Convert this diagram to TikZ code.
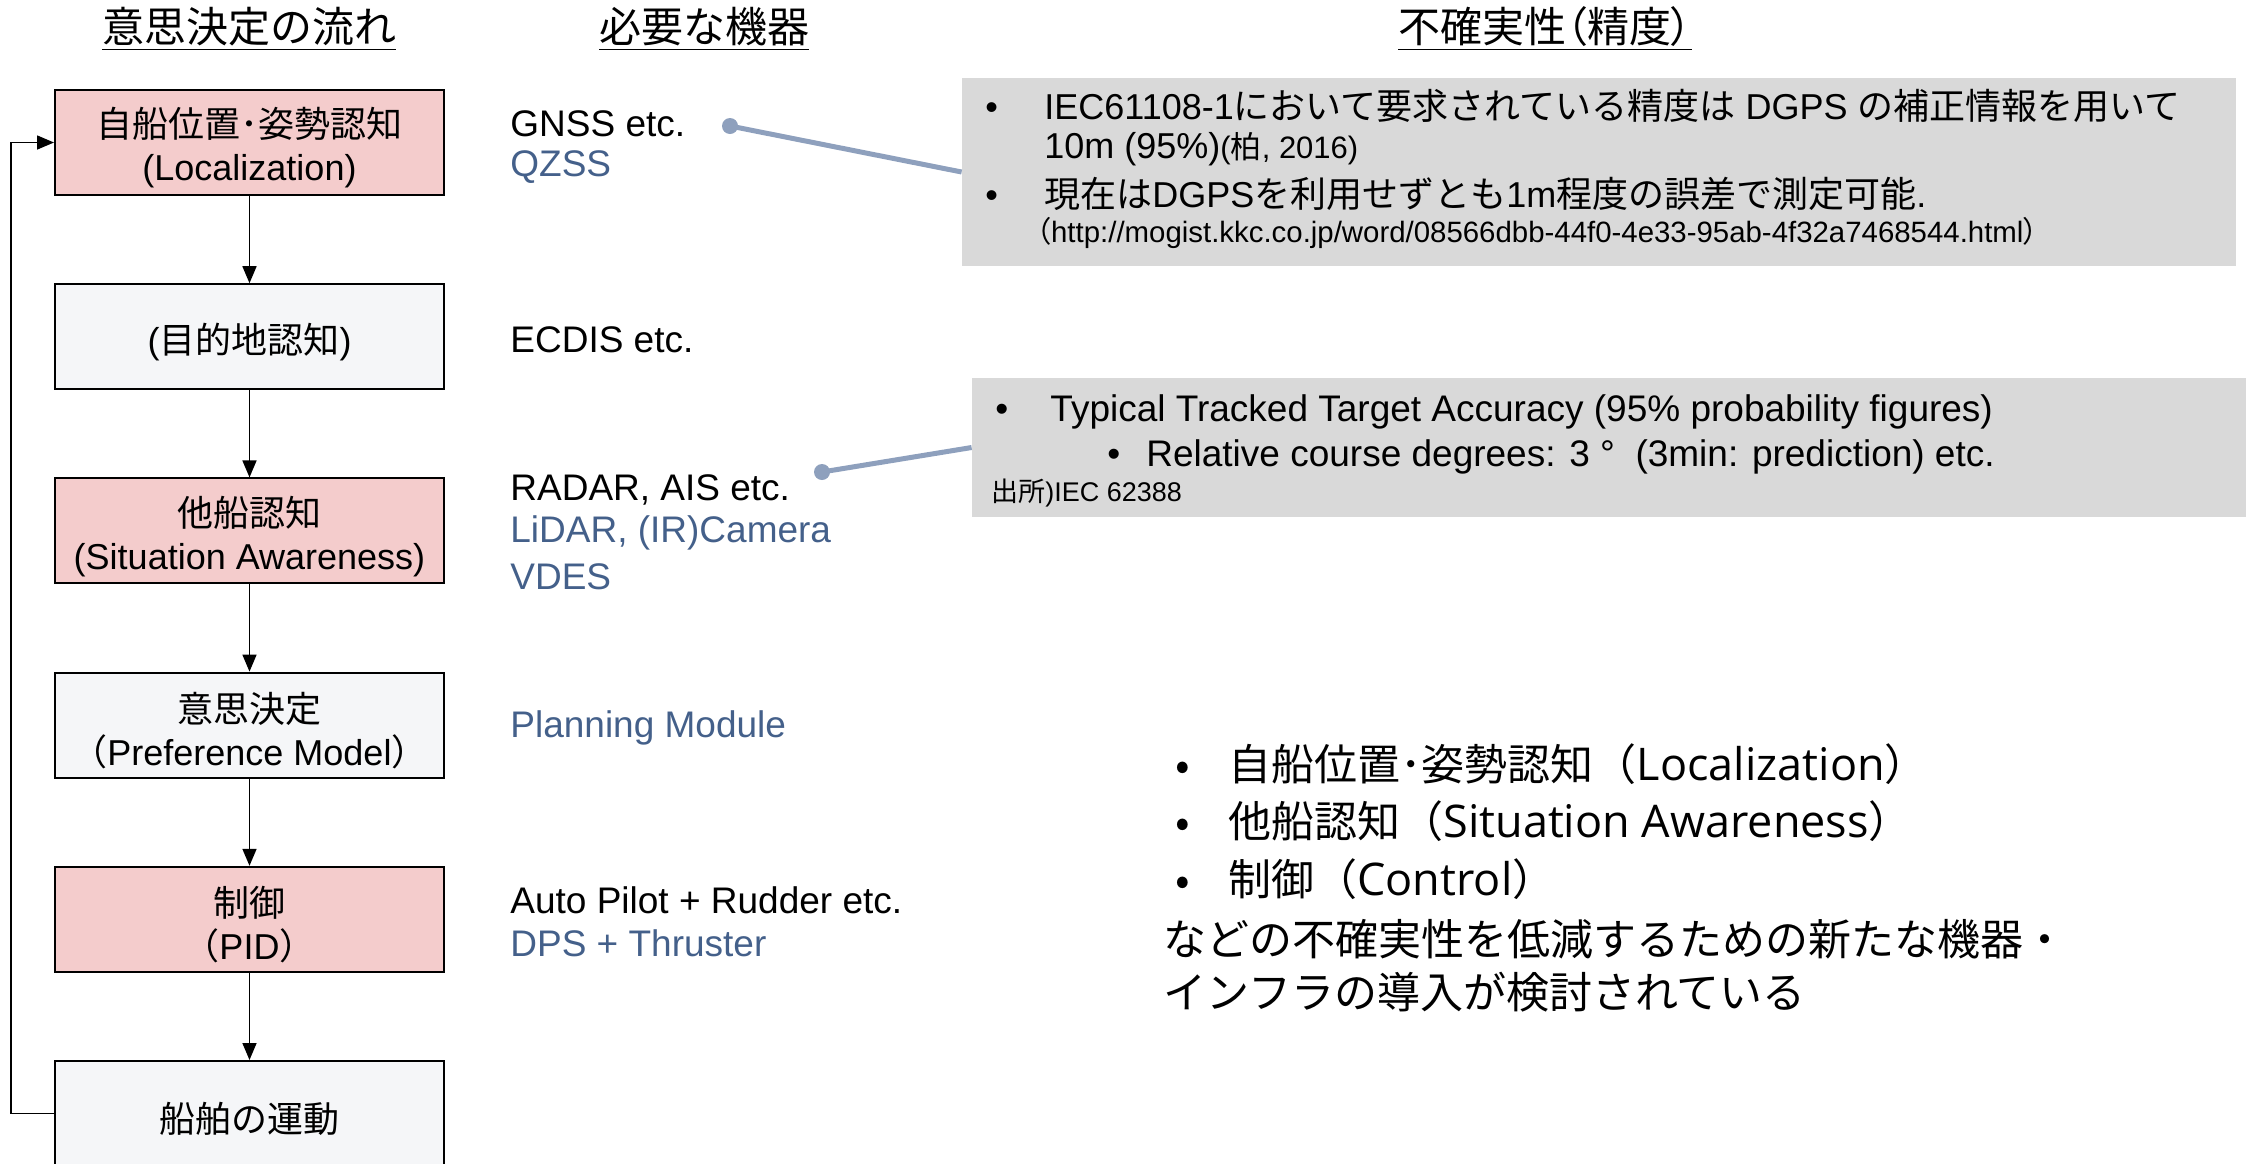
\documentclass[tikz,border=0pt]{standalone}
\usepackage{fontspec}
\setmainfont{Liberation Sans}
\newfontfamily\jp{Noto Sans CJK JP}
\newfontfamily\jpp[RawFeature=+palt]{Noto Sans CJK JP}
\newfontfamily\lat{Open Sans}
\usetikzlibrary{arrows.meta}
\definecolor{pinkfill}{HTML}{F4CCCC}
\definecolor{lightfill}{HTML}{F5F6F8}
\definecolor{bluetxt}{HTML}{44608A}
\definecolor{calloutfill}{HTML}{D9D9D9}
\definecolor{connector}{HTML}{8EA0BD}
\newcommand{\J}[1]{{\jp #1}}
\newcommand{\Lt}[1]{{\lat\fontsize{22.5}{25}\selectfont #1}}
\newcommand{\bstrut}{\rule{0pt}{20.5pt}}
\begin{document}
\begin{tikzpicture}[x=0.5pt,y=-0.5pt,
  flowbox/.style={draw=black, line width=1pt, minimum width=194.5pt, minimum height=52.5pt,
    align=center, font=\fontsize{18}{21.5}\selectfont, inner sep=0pt},
  pinkbox/.style={flowbox, fill=pinkfill},
  lightbox/.style={flowbox, fill=lightfill},
  flowarrow/.style={draw=black, line width=0.8pt, -{Triangle[length=8.5pt,width=7pt]}},
  heading/.style={font=\jp\fontsize{21}{24}\selectfont, inner sep=0pt},
  equip/.style={anchor=west, inner sep=0pt, font=\fontsize{18.5}{21}\selectfont},
  equipblue/.style={equip, text=bluetxt},
  callout/.style={fill=calloutfill, draw=none, inner sep=0pt},
  calltext/.style={anchor=west, inner sep=0pt, font=\fontsize{18}{21}\selectfont},
  calltextb/.style={anchor=west, inner sep=0pt, font=\fontsize{18.5}{21}\selectfont},
  smalltext/.style={anchor=west, inner sep=0pt, font=\fontsize{14.7}{17}\selectfont},
  dotnode/.style={circle, fill=connector, inner sep=0pt, minimum size=8pt},
  link/.style={draw=connector, line width=2.5pt},
  summary/.style={anchor=west, inner sep=0pt, font=\jp\fontsize{21.5}{25}\selectfont}
]
\useasboundingbox (0,0) rectangle (2252,1163);

% headings
\node[heading] (h1) at (249,29) {\underline{意思決定の流れ}};
\node[heading] (h2) at (704,29) {\underline{必要な機器}};
\node[heading] (h3) at (1545,29) {\underline{\jpp 不確実性（精度）}};

% flow boxes
\node[pinkbox]  (b1) at (249.5,142.5) {\bstrut\J{自船位置･姿勢認知}\\(Localization)};
\node[lightbox] (b2) at (249.5,336.7) {\bstrut(\J{目的地認知})};
\node[pinkbox]  (b3) at (249.5,530.9) {\bstrut\J{他船認知}\\(Situation Awareness)};
\node[lightbox] (b4) at (249.5,725.1) {\bstrut\J{意思決定}\\\J{（}Preference Model\J{）}};
\node[pinkbox]  (b5) at (249.5,919.3) {\bstrut\J{制御}\\\J{（}PID\J{）}};
\node[lightbox] (b6) at (249.5,1113.5) {\bstrut\J{船舶の運動}};

\draw[flowarrow] (b1.south) -- (b2.north);
\draw[flowarrow] (b2.south) -- (b3.north);
\draw[flowarrow] (b3.south) -- (b4.north);
\draw[flowarrow] (b4.south) -- (b5.north);
\draw[flowarrow] (b5.south) -- (b6.north);
\coordinate (fbl) at (11,1113.5);
\coordinate (ftl) at (11,142.5);
\draw[flowarrow] (b6.west) -- (fbl) -- (ftl) -- (b1.west);

% equipment
\node[equip]     (e1a) at (510,124) {GNSS etc.};
\node[equipblue] (e1b) at (510,167) {QZSS};
\node[equip]     (e2a) at (510,340) {ECDIS etc.};
\node[equip]     (e3a) at (510,490) {RADAR, AIS etc.};
\node[equipblue] (e3b) at (510,533) {LiDAR, (IR)Camera};
\node[equipblue] (e3c) at (510,577) {VDES};
\node[equipblue] (e4a) at (510,728) {Planning Module};
\node[equip]     (e5a) at (510,900) {Auto Pilot + Rudder etc.};
\node[equipblue] (e5b) at (510,943) {DPS + Thruster};

% callout A
\node[callout, minimum width=637pt, minimum height=94pt] (ca) at (1599,172) {};
\node[dotnode] (da) at (730,126) {};
\draw[link] (da.center) -- (ca.west);
\node[calltext] (ca1) at (985,106) {\makebox[29.5pt][l]{•}IEC61108-1\J{において要求されている精度は} DGPS \J{の補正情報を用いて}};
\node[calltext] (ca2) at (1044,149) {10m (95\%){\fontsize{15.5}{17}\selectfont(\J{柏}, 2016)}};
\node[calltext] (ca3) at (985,194) {\makebox[29.5pt][l]{•}\J{現在は}DGPS\J{を利用せずとも}1m\J{程度の誤差で測定可能}.};
\node[smalltext] (ca4) at (1036,233) {{\jpp （}http://mogist.kkc.co.jp/word/08566dbb-44f0-4e33-95ab-4f32a7468544.html{\jpp ）}};

% callout B
\node[callout, minimum width=637pt, minimum height=69.5pt] (cb) at (1609,447.5) {};
\node[dotnode] (db) at (822,472) {};
\draw[link] (db.center) -- (cb.west);
\node[calltextb] (cb1) at (995,412) {\makebox[27.5pt][l]{•}Typical Tracked Target Accuracy (95\% probability figures)};
\node[calltextb] (cb2) at (1107,457) {\makebox[19.5pt][l]{•}Relative course degrees: 3 °\ \ (3min: prediction) etc.};
\node[smalltext] (cb3) at (991,493) {\fontsize{13.5}{16}\selectfont\J{出所})IEC 62388};

% summary
\node[summary] (s1) at (1175,764) {\makebox[26.5pt][l]{•}自船位置･姿勢認知（\Lt{Localization}）};
\node[summary] (s2) at (1175,821) {\makebox[26.5pt][l]{•}他船認知（\Lt{Situation Awareness}）};
\node[summary] (s3) at (1175,879) {\makebox[26.5pt][l]{•}制御（\Lt{Control}）};
\node[summary] (s4) at (1163,939) {などの不確実性を低減するための新たな機器・};
\node[summary] (s5) at (1163,992) {インフラの導入が検討されている};
\end{tikzpicture}
\end{document}
